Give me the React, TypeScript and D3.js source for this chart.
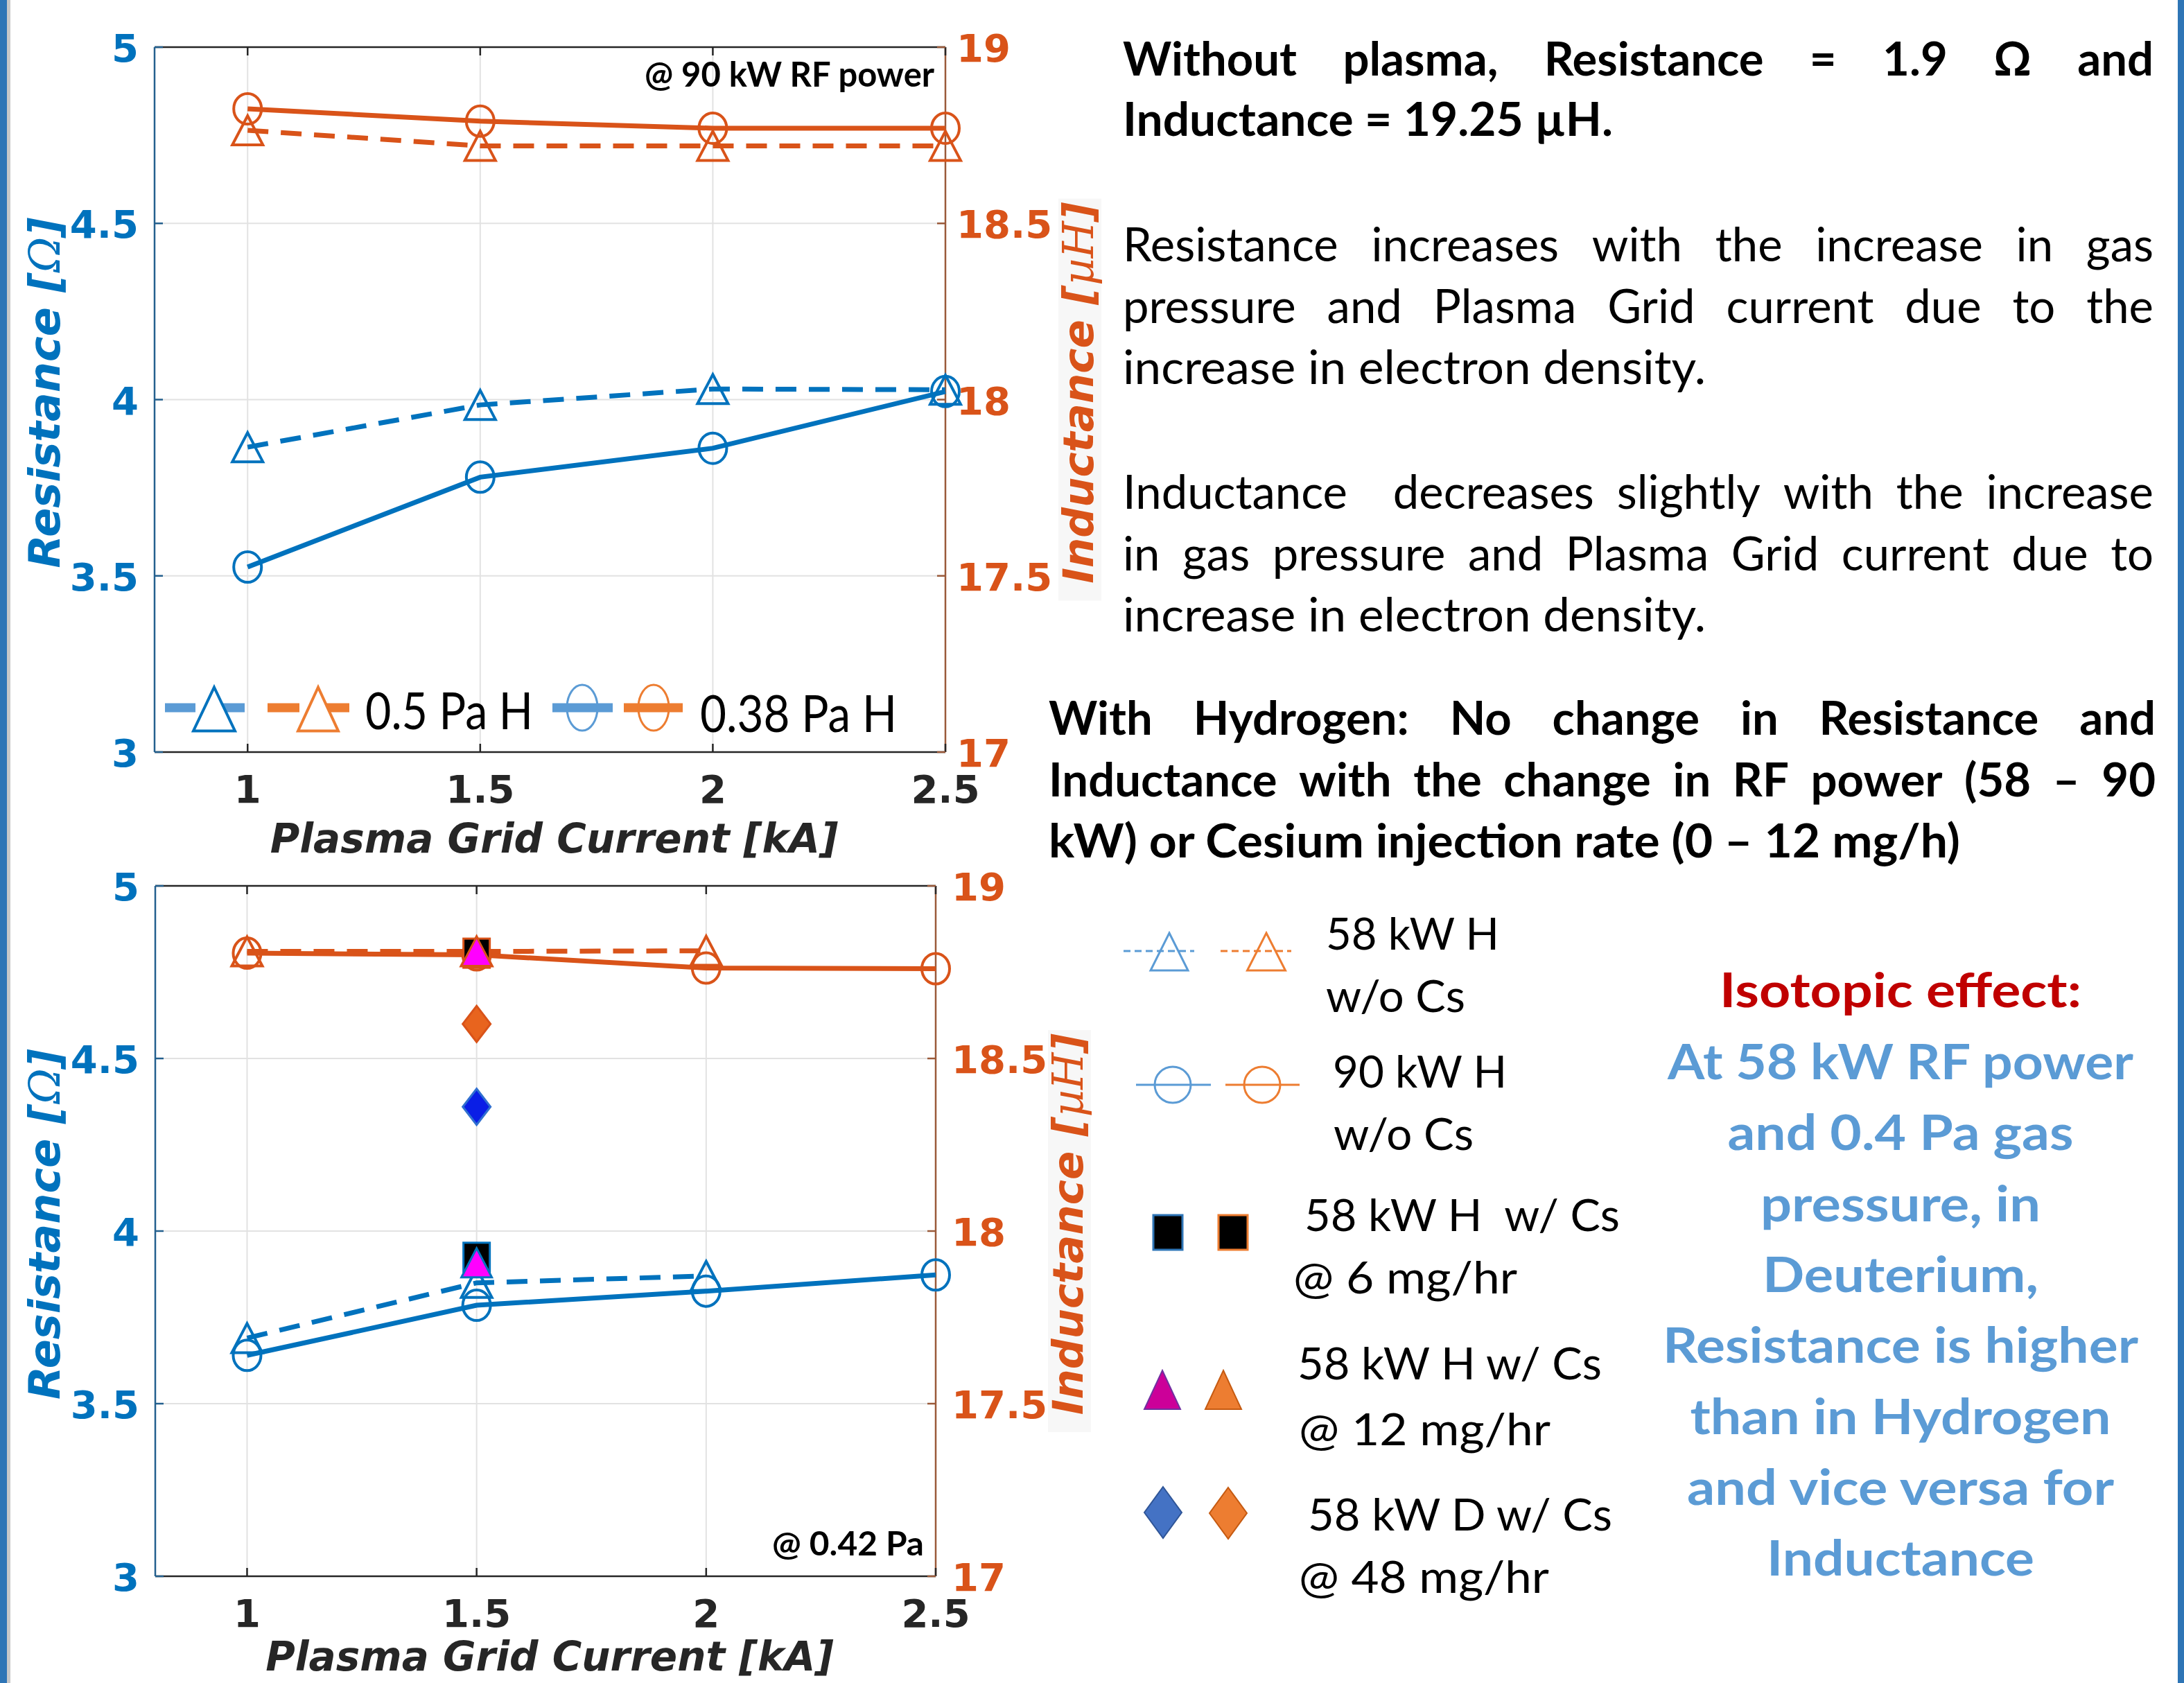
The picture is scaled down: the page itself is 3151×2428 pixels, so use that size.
import React from 'react';
import * as d3 from 'd3';

const W = 3151;
const H = 2428;

// x: plasma grid current [kA]
const gridCurrent = [1, 1.5, 2, 2.5];
const gridCurrentNoCs = [1, 1.5, 2];
const csCurrent = [1.5];
const xTicks = [1, 1.5, 2, 2.5];
const resTicks = [3, 3.5, 4, 4.5, 5];
const indTicks = [17, 17.5, 18, 18.5, 19];
const resTickLabels = ['3', '3.5', '4', '4.5', '5'];
const indTickLabels = ['17', '17.5', '18', '18.5', '19'];
const xTickLabels = ['1', '1.5', '2', '2.5'];

// top panel, @ 90 kW RF power
const res05PaH = [3.865, 3.985, 4.03, 4.028];
const res038PaH = [3.525, 3.78, 3.862, 4.023];
const ind05PaH = [18.764, 18.72, 18.72, 18.72];
const ind038PaH = [18.825, 18.79, 18.77, 18.77];

// bottom panel, @ 0.42 Pa
const res58kWH = [3.69, 3.85, 3.87];
const ind58kWH = [18.81, 18.81, 18.812];
const res90kWH = [3.64, 3.785, 3.826, 3.873];
const ind90kWH = [18.805, 18.8, 18.762, 18.76];
const resCs6 = [3.924];
const indCs6 = [18.805];
const resCs12 = [3.908];
const indCs12 = [18.81];
const resD48 = [4.36];
const indD48 = [18.6];

// text on the right
const para1 = ['Without plasma, Resistance = 1.9 Ω and', 'Inductance = 19.25 µH.'];
const para2 = [
  'Resistance increases with the increase in gas',
  'pressure and Plasma Grid current due to the',
  'increase in electron density.',
];
const para3 = [
  'Inductance  decreases slightly with the increase',
  'in gas pressure and Plasma Grid current due to',
  'increase in electron density.',
];
const para4 = [
  'With Hydrogen: No change in Resistance and',
  'Inductance with the change in RF power (58 – 90',
  'kW) or Cesium injection rate (0 – 12 mg/h)',
];
const legendLines = [
  ['58 kW H', 'w/o Cs'],
  ['90 kW H', 'w/o Cs'],
  ['58 kW H  w/ Cs', '@ 6 mg/hr'],
  ['58 kW H w/ Cs', '@ 12 mg/hr'],
  ['58 kW D w/ Cs', '@ 48 mg/hr'],
];
const isoTitle = 'Isotopic effect:';
const isoLines = [
  'At 58 kW RF power',
  'and 0.4 Pa gas',
  'pressure, in',
  'Deuterium,',
  'Resistance is higher',
  'than in Hydrogen',
  'and vice versa for',
  'Inductance',
];

const BLUE = '#0072BD';
const ORANGE = '#D95319';
const AXIS = '#262626';
const PPT_BLUE = '#5B9BD5';
const PPT_ORANGE = '#ED7D31';
const TICK_FONT = 'DejaVu Sans, sans-serif';
const TEXT_FONT = 'Lato, Carlito, sans-serif';
const PARA_SIZE = 67;

let ctx: CanvasRenderingContext2D | null = null;
function measure(t: string, font: string) {
  if (!ctx) ctx = document.createElement('canvas').getContext('2d');
  if (!ctx) return t.length * 30;
  ctx.font = font;
  return ctx.measureText(t).width;
}

// justified line, word by word
function JLine({ text, x, y, width, size, bold }: any) {
  const words = text.split(' ');
  const font = `${bold ? 'bold' : 'normal'} ${size}px Lato`;
  const ws = words.map((w: string) => (w ? measure(w, font) : 0));
  const gap = (width - d3.sum(ws)) / (words.length - 1);
  let cx = x;
  return (
    <g fontFamily={TEXT_FONT} fontSize={size} fontWeight={bold ? 'bold' : 'normal'} fill="#000">
      {words.map((w: string, i: number) => {
        const el = w ? (
          <text key={i} x={cx} y={y}>
            {w}
          </text>
        ) : null;
        cx += ws[i] + gap;
        return el;
      })}
    </g>
  );
}

// plain line, fitted to a measured width
function FLine({ text, x, y, width, size, bold, fill = '#000' }: any) {
  return (
    <text
      x={x}
      y={y}
      textLength={width}
      lengthAdjust="spacingAndGlyphs"
      fontFamily={TEXT_FONT}
      fontSize={size}
      fontWeight={bold ? 'bold' : 'normal'}
      fill={fill}
      style={{ whiteSpace: 'pre' }}
    >
      {text}
    </text>
  );
}

const triPath = (w: number, h: number) => `M0,${-h / 2}L${w / 2},${h / 2}L${-w / 2},${h / 2}Z`;
const diaPath = (w: number, h: number) => `M0,${-h / 2}L${w / 2},0L0,${h / 2}L${-w / 2},0Z`;

function Marker({ kind, cx, cy, stroke, fill = 'none', sw = 4 }: any) {
  const t = `translate(${cx},${cy})`;
  if (kind === 'tri') return <path transform={t} d={triPath(44, 42)} stroke={stroke} fill={fill} strokeWidth={sw} />;
  if (kind === 'circ') return <ellipse cx={cx} cy={cy} rx={20} ry={22} stroke={stroke} fill={fill} strokeWidth={sw} />;
  if (kind === 'sq') return <rect x={cx - 19} y={cy - 21} width={38} height={42} stroke={stroke} fill={fill} strokeWidth={sw} />;
  return <path transform={t} d={diaPath(40, 52)} stroke={stroke} fill={fill} strokeWidth={sw} />;
}

function Series({ xs, ys, x, y, color, dash, kind, fill, line = true, sw = 4 }: any) {
  const gen = d3
    .line<number>()
    .x((_, i) => x(xs[i]))
    .y((d) => y(d));
  return (
    <g>
      {line && (
        <path d={gen(ys) || ''} fill="none" stroke={color} strokeWidth={7} strokeDasharray={dash ? '30 18' : undefined} />
      )}
      {ys.map((v: number, i: number) => (
        <Marker key={i} kind={kind} cx={x(xs[i])} cy={y(v)} stroke={color} fill={fill} sw={sw} />
      ))}
    </g>
  );
}

function Panel({ box, children }: any) {
  const x = d3.scaleLinear().domain([0.8, 2.5]).range([box.left, box.right]);
  const yR = d3.scaleLinear().domain([3, 5]).range([box.bottom, box.top]);
  const yL = d3.scaleLinear().domain([17, 19]).range([box.bottom, box.top]);
  const midY = (box.top + box.bottom) / 2;
  const midX = (box.left + box.right) / 2;
  return (
    <g>
      {/* grid */}
      {xTicks.map((t) => (
        <line key={'gx' + t} x1={x(t)} x2={x(t)} y1={box.top} y2={box.bottom} stroke="#e2e2e2" strokeWidth={2} />
      ))}
      {resTicks.slice(1, -1).map((t) => (
        <line key={'gy' + t} x1={box.left} x2={box.right} y1={yR(t)} y2={yR(t)} stroke="#e2e2e2" strokeWidth={2} />
      ))}
      {/* box */}
      <line x1={box.left} x2={box.right} y1={box.top} y2={box.top} stroke={AXIS} strokeWidth={2.5} />
      <line x1={box.left} x2={box.right} y1={box.bottom} y2={box.bottom} stroke={AXIS} strokeWidth={2.5} />
      <line x1={box.left} x2={box.left} y1={box.top} y2={box.bottom} stroke="#24608e" strokeWidth={2.5} />
      <line x1={box.right} x2={box.right} y1={box.top} y2={box.bottom} stroke="#9a5a3a" strokeWidth={2.5} />
      {xTicks.map((t) => (
        <g key={'tx' + t}>
          <line x1={x(t)} x2={x(t)} y1={box.bottom} y2={box.bottom - 12} stroke={AXIS} strokeWidth={2.5} />
          <line x1={x(t)} x2={x(t)} y1={box.top} y2={box.top + 12} stroke={AXIS} strokeWidth={2.5} />
        </g>
      ))}
      {resTicks.map((t) => (
        <line key={'tl' + t} x1={box.left} x2={box.left + 12} y1={yR(t)} y2={yR(t)} stroke="#24608e" strokeWidth={2.5} />
      ))}
      {indTicks.map((t) => (
        <line key={'tr' + t} x1={box.right} x2={box.right - 12} y1={yL(t)} y2={yL(t)} stroke="#9a5a3a" strokeWidth={2.5} />
      ))}
      {/* tick labels */}
      <g fontFamily={TICK_FONT} fontWeight="bold" fontSize={56}>
        {resTicks.map((t, i) => (
          <text key={'ll' + t} x={box.left - 23} y={yR(t) + 21} textAnchor="end" fill={BLUE}>
            {resTickLabels[i]}
          </text>
        ))}
        {indTicks.map((t, i) => (
          <text key={'rl' + t} x={box.rTickX} y={yL(t) + 21} fill={ORANGE}>
            {indTickLabels[i]}
          </text>
        ))}
        {xTicks.map((t, i) => (
          <text key={'xl' + t} x={x(t)} y={box.bottom + 73} textAnchor="middle" fill={AXIS}>
            {xTickLabels[i]}
          </text>
        ))}
      </g>
      {/* axis labels */}
      <text
        x={midX + 6}
        y={box.xLabelY}
        textAnchor="middle"
        fontFamily={TICK_FONT}
        fontWeight="bold"
        fontStyle="italic"
        fontSize={58}
        fill={AXIS}
      >
        Plasma Grid Current [kA]
      </text>
      <text
        transform={`translate(86,${midY - 10}) rotate(-90)`}
        textAnchor="middle"
        fontFamily={TICK_FONT}
        fontWeight="bold"
        fontStyle="italic"
        fontSize={62}
        fill={BLUE}
      >
        Resistance [
        <tspan fontFamily="DejaVu Serif, serif" fontWeight="normal">
          Ω
        </tspan>
        ]
      </text>
      <rect x={box.rLabelX - 50} y={midY - 290} width={62} height={580} fill="#f7f7f7" />
      <text
        transform={`translate(${box.rLabelX},${midY - 10}) rotate(-90)`}
        textAnchor="middle"
        fontFamily={TICK_FONT}
        fontWeight="bold"
        fontStyle="italic"
        fontSize={61}
        fill={ORANGE}
      >
        Inductance [
        <tspan fontFamily="DejaVu Serif, serif" fontWeight="normal">
          µH
        </tspan>
        ]
      </text>
      {children(x, yR, yL)}
    </g>
  );
}

const topBox = { left: 223, right: 1364, top: 68, bottom: 1085, xLabelY: 1230, rTickX: 1380, rLabelX: 1577 };
const botBox = { left: 224, right: 1350, top: 1278, bottom: 2274, xLabelY: 2410, rTickX: 1373, rLabelX: 1562 };

export default function App() {
  return (
    <svg width={W} height={H} style={{ position: 'absolute', left: 0, top: 0, background: '#fff' }}>
      <rect x={0} y={0} width={W} height={H} fill="#fff" />
      <rect x={0} y={0} width={10} height={H} fill="#2E75B6" />
      <rect x={10} y={0} width={5} height={H} fill="#c8c8c8" />
      <rect x={3142} y={0} width={9} height={H} fill="#2E75B6" />

      {/* top panel */}
      <Panel box={topBox}>
        {(x: any, yR: any, yL: any) => (
          <g>
            <Series xs={gridCurrent} ys={res05PaH} x={x} y={yR} color={BLUE} dash kind="tri" />
            <Series xs={gridCurrent} ys={res038PaH} x={x} y={yR} color={BLUE} kind="circ" />
            <Series xs={gridCurrent} ys={ind05PaH} x={x} y={yL} color={ORANGE} dash kind="tri" />
            <Series xs={gridCurrent} ys={ind038PaH} x={x} y={yL} color={ORANGE} kind="circ" />
            <FLine text="@ 90 kW RF power" x={930} y={125} width={418} size={49} bold />
            {/* legend */}
            <g strokeWidth={13}>
              <line x1={238} x2={353} y1={1021} y2={1021} stroke={PPT_BLUE} strokeDasharray="44 36 40" />
              <path transform="translate(309,1023)" d={triPath(60, 63)} fill="#fff" stroke={BLUE} strokeWidth={4} />
              <line x1={386} x2={504} y1={1021} y2={1021} stroke={PPT_ORANGE} strokeDasharray="46 36 40" />
              <path transform="translate(459,1023)" d={triPath(58, 63)} fill="#fff" stroke={PPT_ORANGE} strokeWidth={4} />
              <line x1={797} x2={884} y1={1021} y2={1021} stroke={PPT_BLUE} />
              <ellipse cx={840} cy={1021} rx={22} ry={33} fill="none" stroke={PPT_BLUE} strokeWidth={3} />
              <line x1={900} x2={985} y1={1021} y2={1021} stroke={PPT_ORANGE} />
              <ellipse cx={943} cy={1021} rx={22} ry={33} fill="none" stroke={PPT_ORANGE} strokeWidth={3} />
            </g>
            <FLine text="0.5 Pa H" x={527} y={1052} width={242} size={74} />
            <FLine text="0.38 Pa H" x={1010} y={1056} width={284} size={74} />
          </g>
        )}
      </Panel>

      {/* bottom panel */}
      <Panel box={botBox}>
        {(x: any, yR: any, yL: any) => (
          <g>
            <Series xs={gridCurrentNoCs} ys={res58kWH} x={x} y={yR} color={BLUE} dash kind="tri" />
            <Series xs={gridCurrent} ys={res90kWH} x={x} y={yR} color={BLUE} kind="circ" />
            <Series xs={gridCurrentNoCs} ys={ind58kWH} x={x} y={yL} color={ORANGE} dash kind="tri" />
            <Series xs={gridCurrent} ys={ind90kWH} x={x} y={yL} color={ORANGE} kind="circ" />
            <Series xs={csCurrent} ys={resCs6} x={x} y={yR} color={BLUE} fill="#000" kind="sq" line={false} sw={3} />
            <Series xs={csCurrent} ys={indCs6} x={x} y={yL} color={ORANGE} fill="#000" kind="sq" line={false} sw={3} />
            <Series xs={csCurrent} ys={resCs12} x={x} y={yR} color={BLUE} fill="#FF00FF" kind="tri" line={false} sw={3} />
            <Series xs={csCurrent} ys={indCs12} x={x} y={yL} color={ORANGE} fill="#FF00FF" kind="tri" line={false} sw={3} />
            <Series xs={csCurrent} ys={resD48} x={x} y={yR} color="#2f6fd0" fill="#0a1ee6" kind="dia" line={false} sw={3} />
            <Series xs={csCurrent} ys={indD48} x={x} y={yL} color={ORANGE} fill="#E8641E" kind="dia" line={false} sw={3} />
            <FLine text="@ 0.42 Pa" x={1114} y={2244} width={219} size={47} bold />
          </g>
        )}
      </Panel>

      {/* notes */}
      {para1.map((t, i) =>
        i === 0 ? (
          <JLine key={t} text={t} x={1620} y={109} width={1487} size={PARA_SIZE} bold />
        ) : (
          <FLine key={t} text={t} x={1620} y={196} width={707} size={PARA_SIZE} bold />
        ),
      )}
      {[para2, para3].map((p, k) =>
        p.map((t, i) =>
          i < 2 ? (
            <JLine key={k + t} text={t} x={1620} y={[377, 734][k] + i * 88.5} width={1487} size={PARA_SIZE} />
          ) : (
            <FLine key={k + t} text={t} x={1620} y={[377, 734][k] + i * 88.5} width={841} size={PARA_SIZE} />
          ),
        ),
      )}
      {para4.map((t, i) =>
        i < 2 ? (
          <JLine key={t} text={t} x={1513} y={1060 + i * 88.5} width={1597} size={PARA_SIZE} bold />
        ) : (
          <FLine key={t} text={t} x={1513} y={1060 + i * 88.5} width={1315} size={PARA_SIZE} bold />
        ),
      )}

      {/* right legend */}
      <g fill="none">
        <line x1={1621} x2={1723} y1={1372} y2={1372} stroke={PPT_BLUE} strokeWidth={3} strokeDasharray="10 6" />
        <path transform="translate(1687,1373)" d={triPath(54, 54)} stroke={PPT_BLUE} strokeWidth={3} />
        <line x1={1761} x2={1863} y1={1372} y2={1372} stroke={PPT_ORANGE} strokeWidth={3} strokeDasharray="10 6" />
        <path transform="translate(1827,1373)" d={triPath(55, 54)} stroke={PPT_ORANGE} strokeWidth={3} />

        <line x1={1639} x2={1747} y1={1565} y2={1565} stroke={PPT_BLUE} strokeWidth={3} />
        <circle cx={1692} cy={1565} r={26} stroke={PPT_BLUE} strokeWidth={3} />
        <line x1={1768} x2={1875} y1={1565} y2={1565} stroke={PPT_ORANGE} strokeWidth={3} />
        <circle cx={1821} cy={1565} r={26} stroke={PPT_ORANGE} strokeWidth={3} />

        <rect x={1664} y={1753} width={42} height={50} fill="#000" stroke="#2E75B6" strokeWidth={3} />
        <rect x={1758} y={1753} width={42} height={50} fill="#000" stroke={PPT_ORANGE} strokeWidth={3} />

        <path transform="translate(1677,2005)" d={triPath(52, 56)} fill="#CC0099" stroke="#7030A0" strokeWidth={2} />
        <path transform="translate(1765,2005)" d={triPath(52, 56)} fill={PPT_ORANGE} stroke="#C55A11" strokeWidth={2} />

        <path transform="translate(1678,2182)" d={diaPath(54, 74)} fill="#4472C4" stroke="#2F5597" strokeWidth={2} />
        <path transform="translate(1772,2183)" d={diaPath(54, 74)} fill={PPT_ORANGE} stroke="#C55A11" strokeWidth={2} />
      </g>
      {legendLines.map((pair, i) => {
        const spec = [
          [1913, 1370, 250, 1913, 1460, 201],
          [1923, 1569, 251, 1924, 1659, 202],
          [1882, 1776, 455, 1866, 1866, 323],
          [1872, 1990, 439, 1874, 2085, 363],
          [1887, 2208, 439, 1874, 2298, 361],
        ][i];
        return (
          <g key={i}>
            <FLine text={pair[0]} x={spec[0]} y={spec[1]} width={spec[2]} size={63} />
            <FLine text={pair[1]} x={spec[3]} y={spec[4]} width={spec[5]} size={63} />
          </g>
        );
      })}

      {/* isotopic effect */}
      <FLine text={isoTitle} x={2481} y={1453} width={522} size={68} bold fill="#C00000" />
      {isoLines.map((t, i) => {
        const widths = [672, 499, 404, 398, 686, 607, 616, 386];
        return (
          <FLine
            key={t}
            text={t}
            x={2742 - widths[i] / 2}
            y={1557 + i * 102.3}
            width={widths[i]}
            size={70}
            bold
            fill={PPT_BLUE}
          />
        );
      })}
    </svg>
  );
}
